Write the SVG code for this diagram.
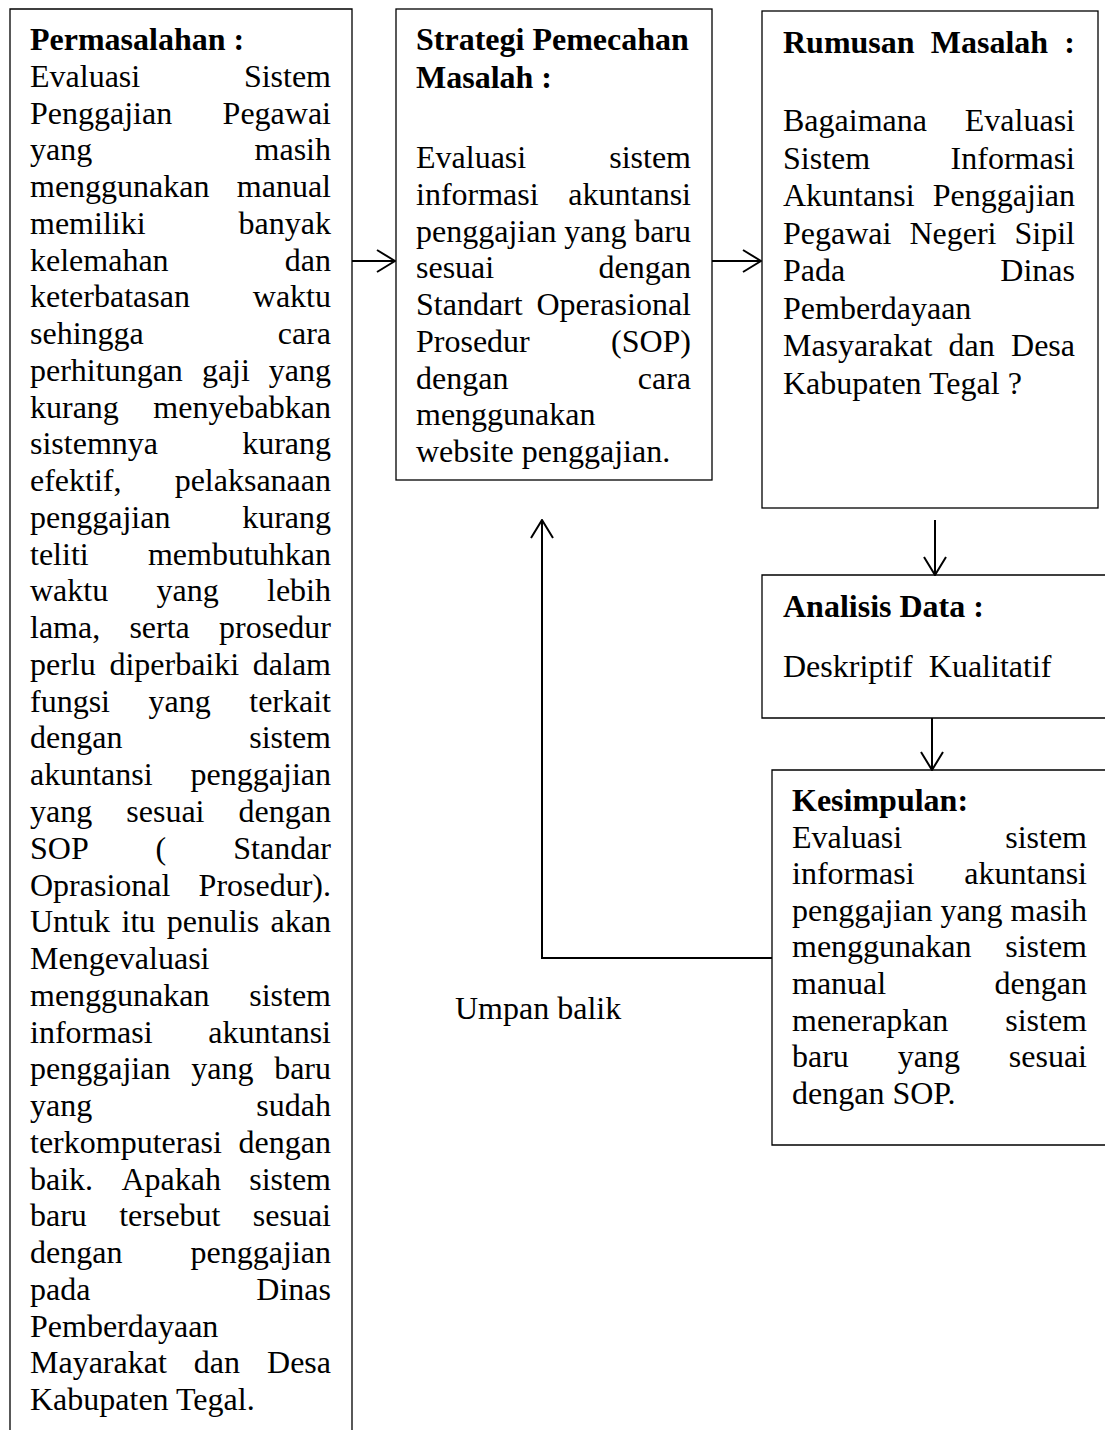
<svg xmlns="http://www.w3.org/2000/svg" width="1105" height="1430" viewBox="0 0 1105 1430">
<style>
.t{font-family:"Liberation Serif","Times New Roman",serif;font-size:32px;fill:#000}
.b{font-weight:bold}
.e{text-anchor:end}
.box{fill:none;stroke:#000;stroke-width:1.3}
.c{fill:none;stroke:#000;stroke-width:2}
</style>
<defs>
<marker id="arr" viewBox="0 0 20 24" refX="19" refY="12" markerWidth="20" markerHeight="24" markerUnits="userSpaceOnUse" orient="auto">
<path d="M1,1 L19,12 L1,23" fill="none" stroke="#000" stroke-width="2"/>
</marker>
</defs>
<rect width="1105" height="1430" fill="#fff"/>

<g id="permasalahan">
<path class="box" d="M10,1430 L10,9 L352,9 L352,1430"/>
<text class="t b" x="30" y="50">Permasalahan :</text>
<text class="t" y="86.8"><tspan x="30">Evaluasi</tspan><tspan x="331" class="e">Sistem</tspan></text>
<text class="t" y="123.5"><tspan x="30">Penggajian</tspan><tspan x="331" class="e">Pegawai</tspan></text>
<text class="t" y="160.3"><tspan x="30">yang</tspan><tspan x="331" class="e">masih</tspan></text>
<text class="t" y="197"><tspan x="30">menggunakan</tspan><tspan x="331" class="e">manual</tspan></text>
<text class="t" y="233.8"><tspan x="30">memiliki</tspan><tspan x="331" class="e">banyak</tspan></text>
<text class="t" y="270.6"><tspan x="30">kelemahan</tspan><tspan x="331" class="e">dan</tspan></text>
<text class="t" y="307.3"><tspan x="30">keterbatasan</tspan><tspan x="331" class="e">waktu</tspan></text>
<text class="t" y="344.1"><tspan x="30">sehingga</tspan><tspan x="331" class="e">cara</tspan></text>
<text class="t" y="380.8"><tspan x="30">perhitungan</tspan><tspan x="201.9">gaji</tspan><tspan x="331" class="e">yang</tspan></text>
<text class="t" y="417.6"><tspan x="30">kurang</tspan><tspan x="331" class="e">menyebabkan</tspan></text>
<text class="t" y="454.4"><tspan x="30">sistemnya</tspan><tspan x="331" class="e">kurang</tspan></text>
<text class="t" y="491.1"><tspan x="30">efektif,</tspan><tspan x="331" class="e">pelaksanaan</tspan></text>
<text class="t" y="527.9"><tspan x="30">penggajian</tspan><tspan x="331" class="e">kurang</tspan></text>
<text class="t" y="564.6"><tspan x="30">teliti</tspan><tspan x="331" class="e">membutuhkan</tspan></text>
<text class="t" y="601.4"><tspan x="30">waktu</tspan><tspan x="156.5">yang</tspan><tspan x="331" class="e">lebih</tspan></text>
<text class="t" y="638.2"><tspan x="30">lama,</tspan><tspan x="129.4">serta</tspan><tspan x="331" class="e">prosedur</tspan></text>
<text class="t" y="674.9"><tspan x="30">perlu</tspan><tspan x="109.4">diperbaiki</tspan><tspan x="331" class="e">dalam</tspan></text>
<text class="t" y="711.7"><tspan x="30">fungsi</tspan><tspan x="148.5">yang</tspan><tspan x="331" class="e">terkait</tspan></text>
<text class="t" y="748.4"><tspan x="30">dengan</tspan><tspan x="331" class="e">sistem</tspan></text>
<text class="t" y="785.2"><tspan x="30">akuntansi</tspan><tspan x="331" class="e">penggajian</tspan></text>
<text class="t" y="822"><tspan x="30">yang</tspan><tspan x="126.3">sesuai</tspan><tspan x="331" class="e">dengan</tspan></text>
<text class="t" y="858.7"><tspan x="30">SOP</tspan><tspan x="155.6">(</tspan><tspan x="331" class="e">Standar</tspan></text>
<text class="t" y="895.5"><tspan x="30">Oprasional</tspan><tspan x="331" class="e">Prosedur).</tspan></text>
<text class="t" y="932.2"><tspan x="30">Untuk</tspan><tspan x="121.5">itu</tspan><tspan x="166.8">penulis</tspan><tspan x="331" class="e">akan</tspan></text>
<text class="t" x="30" y="969">Mengevaluasi</text>
<text class="t" y="1005.8"><tspan x="30">menggunakan</tspan><tspan x="331" class="e">sistem</tspan></text>
<text class="t" y="1042.5"><tspan x="30">informasi</tspan><tspan x="331" class="e">akuntansi</tspan></text>
<text class="t" y="1079.3"><tspan x="30">penggajian</tspan><tspan x="191.2">yang</tspan><tspan x="331" class="e">baru</tspan></text>
<text class="t" y="1116"><tspan x="30">yang</tspan><tspan x="331" class="e">sudah</tspan></text>
<text class="t" y="1152.8"><tspan x="30">terkomputerasi</tspan><tspan x="331" class="e">dengan</tspan></text>
<text class="t" y="1189.6"><tspan x="30">baik.</tspan><tspan x="121.4">Apakah</tspan><tspan x="331" class="e">sistem</tspan></text>
<text class="t" y="1226.3"><tspan x="30">baru</tspan><tspan x="119.2">tersebut</tspan><tspan x="331" class="e">sesuai</tspan></text>
<text class="t" y="1263.1"><tspan x="30">dengan</tspan><tspan x="331" class="e">penggajian</tspan></text>
<text class="t" y="1299.8"><tspan x="30">pada</tspan><tspan x="331" class="e">Dinas</tspan></text>
<text class="t" x="30" y="1336.6">Pemberdayaan</text>
<text class="t" y="1373.4"><tspan x="30">Mayarakat</tspan><tspan x="193.8">dan</tspan><tspan x="331" class="e">Desa</tspan></text>
<text class="t" x="30" y="1410.1">Kabupaten Tegal.</text>
</g>

<g id="strategi">
<rect class="box" x="396" y="9" width="316" height="471"/>
<text class="t b" x="416" y="50">Strategi Pemecahan</text>
<text class="t b" x="416" y="88">Masalah :</text>
<text class="t" y="168"><tspan x="416">Evaluasi</tspan><tspan x="691" class="e">sistem</tspan></text>
<text class="t" y="204.75"><tspan x="416">informasi</tspan><tspan x="691" class="e">akuntansi</tspan></text>
<text class="t" y="241.5"><tspan x="416">penggajian</tspan><tspan x="564.2">yang</tspan><tspan x="691" class="e">baru</tspan></text>
<text class="t" y="278.25"><tspan x="416">sesuai</tspan><tspan x="691" class="e">dengan</tspan></text>
<text class="t" y="315"><tspan x="416">Standart</tspan><tspan x="691" class="e">Operasional</tspan></text>
<text class="t" y="351.75"><tspan x="416">Prosedur</tspan><tspan x="691" class="e">(SOP)</tspan></text>
<text class="t" y="388.5"><tspan x="416">dengan</tspan><tspan x="691" class="e">cara</tspan></text>
<text class="t" x="416" y="425.25">menggunakan</text>
<text class="t" x="416" y="462">website penggajian.</text>
</g>

<g id="rumusan">
<rect class="box" x="762" y="11" width="336" height="497"/>
<text class="t b" y="53"><tspan x="783">Rumusan</tspan><tspan x="930.8">Masalah</tspan><tspan x="1075" class="e">:</tspan></text>
<text class="t" y="131"><tspan x="783">Bagaimana</tspan><tspan x="1075" class="e">Evaluasi</tspan></text>
<text class="t" y="168.6"><tspan x="783">Sistem</tspan><tspan x="1075" class="e">Informasi</tspan></text>
<text class="t" y="206.1"><tspan x="783">Akuntansi</tspan><tspan x="1075" class="e">Penggajian</tspan></text>
<text class="t" y="243.7"><tspan x="783">Pegawai</tspan><tspan x="909.4">Negeri</tspan><tspan x="1075" class="e">Sipil</tspan></text>
<text class="t" y="281.3"><tspan x="783">Pada</tspan><tspan x="1075" class="e">Dinas</tspan></text>
<text class="t" x="783" y="318.9">Pemberdayaan</text>
<text class="t" y="356.4"><tspan x="783">Masyarakat</tspan><tspan x="948.5">dan</tspan><tspan x="1075" class="e">Desa</tspan></text>
<text class="t" x="783" y="394">Kabupaten Tegal ?</text>
</g>

<g id="analisis">
<path class="box" d="M1105,575 L762,575 L762,718 L1105,718"/>
<text class="t b" x="783" y="617">Analisis Data :</text>
<text class="t" y="677"><tspan x="783">Deskriptif</tspan><tspan x="928.8">Kualitatif</tspan></text>
</g>

<g id="kesimpulan">
<path class="box" d="M1105,770 L772,770 L772,1145 L1105,1145"/>
<text class="t b" x="792" y="811">Kesimpulan:</text>
<text class="t" y="847.6"><tspan x="792">Evaluasi</tspan><tspan x="1087" class="e">sistem</tspan></text>
<text class="t" y="884.2"><tspan x="792">informasi</tspan><tspan x="1087" class="e">akuntansi</tspan></text>
<text class="t" y="920.8"><tspan x="792">penggajian</tspan><tspan x="940.4">yang</tspan><tspan x="1087" class="e">masih</tspan></text>
<text class="t" y="957.4"><tspan x="792">menggunakan</tspan><tspan x="1087" class="e">sistem</tspan></text>
<text class="t" y="994"><tspan x="792">manual</tspan><tspan x="1087" class="e">dengan</tspan></text>
<text class="t" y="1030.6"><tspan x="792">menerapkan</tspan><tspan x="1087" class="e">sistem</tspan></text>
<text class="t" y="1067.2"><tspan x="792">baru</tspan><tspan x="897.7">yang</tspan><tspan x="1087" class="e">sesuai</tspan></text>
<text class="t" x="792" y="1103.8">dengan SOP.</text>
</g>

<g id="umpan-balik">
<text class="t" x="455" y="1019">Umpan balik</text>
</g>

<g id="connectors">
<path class="c" d="M352,261 L395,261" marker-end="url(#arr)"/>
<path class="c" d="M712,261 L761,261" marker-end="url(#arr)"/>
<path class="c" d="M935,520 L935,575" marker-end="url(#arr)"/>
<path class="c" d="M932,718 L932,770" marker-end="url(#arr)"/>
<path class="c" d="M772,958 L542,958 L542,520" marker-end="url(#arr)"/>
</g>
</svg>
